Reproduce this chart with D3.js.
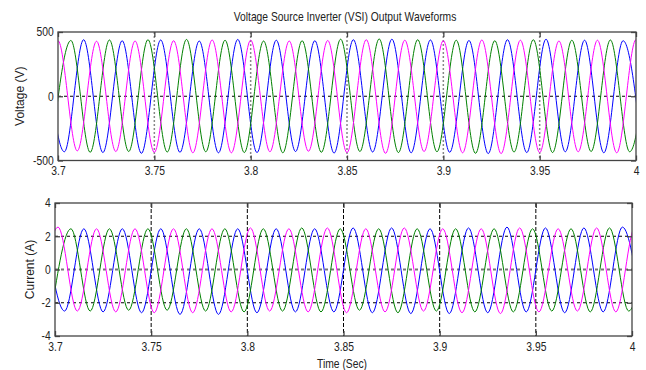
<!DOCTYPE html>
<html>
<head>
<meta charset="utf-8">
<script src="https://cdn.jsdelivr.net/npm/d3@7"></script>
<style>
  body { margin: 0; background: #fff; }
  svg text { font-family: "Liberation Sans", Arial, sans-serif; fill: #222; }
</style>
</head>
<body>
<div id="chart"></div>
<script>
// x axis ticks (shared)
const timeTicks = [3.7, 3.75, 3.8, 3.85, 3.9, 3.95, 4];
const timeLabels = ['3.7', '3.75', '3.8', '3.85', '3.9', '3.95', '4'];

// voltage: times of each peak / trough and the value read at it
const tVA = [3.69, 3.70, 3.71, 3.72, 3.73, 3.74, 3.75, 3.76, 3.77, 3.78, 3.79, 3.80, 3.81, 3.82, 3.83, 3.84, 3.85, 3.86, 3.87, 3.88, 3.89, 3.90, 3.91, 3.92, 3.93, 3.94, 3.95, 3.96, 3.97, 3.98, 3.99, 4.00, 4.01];
const vA = [-430, 432, -425, 428, -430, 430, -436, 432, -440, 438, -440, 436, -432, 430, -428, 434, -438, 440, -444, 436, -430, 432, -440, 438, -446, 436, -438, 430, -432, 436, -440, 440, -436];
const tVB = [3.6967, 3.7067, 3.7167, 3.7267, 3.7367, 3.7467, 3.7567, 3.7667, 3.7767, 3.7867, 3.7967, 3.8067, 3.8167, 3.8267, 3.8367, 3.8467, 3.8567, 3.8667, 3.8767, 3.8867, 3.8967, 3.9067, 3.9167, 3.9267, 3.9367, 3.9467, 3.9567, 3.9667, 3.9767, 3.9867, 3.9967, 4.0067];
const vB = [-428, 434, -436, 438, -430, 440, -434, 442, -432, 436, -438, 430, -440, 432, -436, 444, -430, 446, -438, 440, -432, 436, -444, 432, -434, 440, -438, 436, -430, 438, -432, 434];
const tVC = [3.6933, 3.7033, 3.7133, 3.7233, 3.7333, 3.7433, 3.7533, 3.7633, 3.7733, 3.7833, 3.7933, 3.8033, 3.8133, 3.8233, 3.8333, 3.8433, 3.8533, 3.8633, 3.8733, 3.8833, 3.8933, 3.9033, 3.9133, 3.9233, 3.9333, 3.9433, 3.9533, 3.9633, 3.9733, 3.9833, 3.9933, 4.0033];
const vC = [436, -432, 440, -438, 432, -444, 438, -436, 430, -440, 442, -438, 436, -430, 432, -442, 440, -434, 444, -440, 438, -436, 434, -446, 440, -438, 444, -432, 436, -440, 432, -438];

// current: peaks / troughs
const tIA = [3.6916, 3.7016, 3.7116, 3.7216, 3.7316, 3.7416, 3.7516, 3.7616, 3.7716, 3.7816, 3.7916, 3.8016, 3.8116, 3.8216, 3.8316, 3.8416, 3.8516, 3.8616, 3.8716, 3.8816, 3.8916, 3.9016, 3.9116, 3.9216, 3.9316, 3.9416, 3.9516, 3.9616, 3.9716, 3.9816, 3.9916, 4.0016, 4.0116];
const iA = [-2.5, 2.55, -2.5, 2.45, -2.55, 2.45, -2.6, 2.45, -2.6, 2.45, -2.55, 2.5, -2.5, 2.45, -2.55, 2.5, -2.6, 2.45, -2.55, 2.5, -2.5, 2.45, -2.6, 2.45, -2.65, 2.5, -2.55, 2.45, -2.5, 2.5, -2.55, 2.55, -2.5];
const tIB = [3.6983, 3.7083, 3.7183, 3.7283, 3.7383, 3.7483, 3.7583, 3.7683, 3.7783, 3.7883, 3.7983, 3.8083, 3.8183, 3.8283, 3.8383, 3.8483, 3.8583, 3.8683, 3.8783, 3.8883, 3.8983, 3.9083, 3.9183, 3.9283, 3.9383, 3.9483, 3.9583, 3.9683, 3.9783, 3.9883, 3.9983, 4.0083];
const iB = [-2.45, 2.45, -2.5, 2.45, -2.45, 2.45, -2.45, 2.45, -2.5, 2.45, -2.55, 2.45, -2.5, 2.5, -2.55, 2.45, -2.45, 2.45, -2.6, 2.45, -2.5, 2.45, -2.55, 2.45, -2.55, 2.45, -2.5, 2.45, -2.55, 2.5, -2.5, 2.45];
const tIC = [3.695, 3.705, 3.715, 3.725, 3.735, 3.745, 3.755, 3.765, 3.775, 3.785, 3.795, 3.805, 3.815, 3.825, 3.835, 3.845, 3.855, 3.865, 3.875, 3.885, 3.895, 3.905, 3.915, 3.925, 3.935, 3.945, 3.955, 3.965, 3.975, 3.985, 3.995, 4.005];
const iC = [2.45, -2.5, 2.45, -2.55, 2.45, -2.6, 2.45, -2.7, 2.45, -2.7, 2.45, -2.6, 2.45, -2.55, 2.45, -2.55, 2.5, -2.6, 2.5, -2.65, 2.45, -2.65, 2.5, -2.6, 2.55, -2.55, 2.5, -2.6, 2.5, -2.55, 2.55, -2.55];

const voltTicks = [-500, 0, 500];
const currTicks = [-4, -2, 0, 2, 4];

const phaseColors = ['#0000ff', '#008000', '#ff00ff'];
const squeeze = 'scale(0.86,1)';

const svg = d3.select('#chart').append('svg')
  .attr('width', 646)
  .attr('height', 370);

function drawPanel(p) {
  const x = d3.scaleLinear().domain([3.7, 4]).range([p.left, p.right]);
  const y = d3.scaleLinear().domain(p.yDomain).range([p.bottom, p.top]);
  const g = svg.append('g');

  g.append('clipPath').attr('id', p.id)
    .append('rect')
    .attr('x', p.left).attr('y', p.top)
    .attr('width', p.right - p.left).attr('height', p.bottom - p.top);

  // vertical grid
  g.selectAll('.vgrid')
    .data(timeTicks.slice(1, -1))
    .enter().append('line')
    .attr('x1', d => x(d)).attr('x2', d => x(d))
    .attr('y1', p.top).attr('y2', p.bottom)
    .attr('stroke', p.vGridColor)
    .attr('stroke-width', p.vGridWidth)
    .attr('stroke-dasharray', p.vGridDash);

  // horizontal grid
  g.selectAll('.hgrid')
    .data(p.yTicks.slice(1, -1))
    .enter().append('line')
    .attr('x1', p.left).attr('x2', p.right)
    .attr('y1', d => y(d)).attr('y2', d => y(d))
    .attr('stroke', d => d === 0 && p.zeroGrey ? '#777' : '#000')
    .attr('stroke-width', d => d === 0 && p.zeroGrey ? 2 : 1)
    .attr('stroke-dasharray', '3,3');

  const line = d3.line()
    .x(d => x(d[0]))
    .y(d => y(d[1]))
    .curve(d3.curveMonotoneX);

  const lines = g.append('g').attr('clip-path', `url(#${p.id})`);
  p.series.forEach((s, i) => {
    lines.append('path')
      .datum(d3.zip(s.t, s.v))
      .attr('fill', 'none')
      .attr('stroke', phaseColors[i])
      .attr('stroke-width', 1)
      .attr('d', line);
  });

  // box
  g.append('rect')
    .attr('x', p.left).attr('y', p.top)
    .attr('width', p.right - p.left).attr('height', p.bottom - p.top)
    .attr('fill', 'none').attr('stroke', '#444').attr('stroke-width', 1.3);

  const bottomAxis = g.append('g')
    .attr('transform', `translate(0,${p.bottom})`)
    .call(d3.axisBottom(x).tickValues(timeTicks)
      .tickFormat((d, i) => timeLabels[i]).tickSize(-5).tickPadding(6));
  g.append('g')
    .attr('transform', `translate(0,${p.top})`)
    .call(d3.axisTop(x).tickValues(timeTicks).tickSize(-5).tickFormat(''));
  const leftAxis = g.append('g')
    .attr('transform', `translate(${p.left},0)`)
    .call(d3.axisLeft(y).tickValues(p.yTicks).tickSize(-5).tickPadding(5)
      .tickFormat(d => String(d)));
  g.append('g')
    .attr('transform', `translate(${p.right},0)`)
    .call(d3.axisRight(y).tickValues(p.yTicks).tickSize(-5).tickFormat(''));

  g.selectAll('.domain').remove();
  g.selectAll('.tick line').attr('stroke', '#444').attr('stroke-width', 1.3);
  [bottomAxis, leftAxis].forEach(a => a.selectAll('text')
    .attr('font-size', 12)
    .attr('fill', '#222')
    .attr('transform', squeeze));

  svg.append('text')
    .attr('transform', `translate(${p.yLabelX},${(p.top + p.bottom) / 2}) rotate(-90)`)
    .attr('text-anchor', 'middle')
    .attr('font-size', 12)
    .text(p.yLabel);
}

drawPanel({
  id: 'clipV', left: 58, right: 636, top: 32, bottom: 160.5,
  yDomain: [-500, 500], yTicks: voltTicks,
  vGridColor: '#888', vGridWidth: 1.5, vGridDash: '2,2', zeroGrey: false,
  yLabel: 'Voltage (V)', yLabelX: 24,
  series: [{ t: tVC, v: vC }, { t: tVB, v: vB }, { t: tVA, v: vA }]
});

drawPanel({
  id: 'clipI', left: 55, right: 632, top: 203, bottom: 336,
  yDomain: [-4, 4], yTicks: currTicks,
  vGridColor: '#000', vGridWidth: 1, vGridDash: '4,2', zeroGrey: true,
  yLabel: 'Current (A)', yLabelX: 34,
  series: [{ t: tIC, v: iC }, { t: tIB, v: iB }, { t: tIA, v: iA }]
});

svg.append('text')
  .attr('transform', `translate(345,21) ${squeeze}`)
  .attr('text-anchor', 'middle')
  .attr('font-size', 12)
  .text('Voltage Source Inverter (VSI) Output Waveforms');

svg.append('text')
  .attr('transform', `translate(342,368) ${squeeze}`)
  .attr('text-anchor', 'middle')
  .attr('font-size', 12)
  .text('Time (Sec)');
</script>
</body>
</html>
